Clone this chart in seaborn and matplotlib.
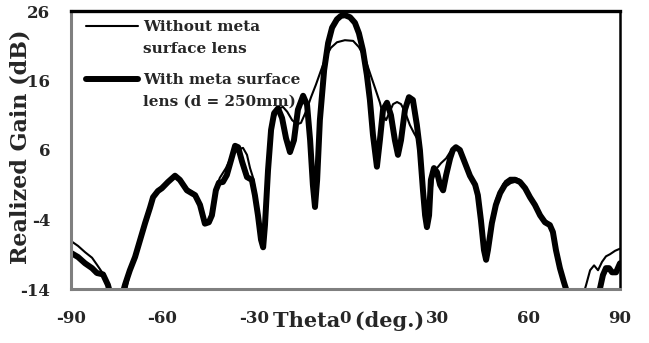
import numpy as np
import pandas as pd
import matplotlib
matplotlib.use("Agg")
import matplotlib.pyplot as plt
import seaborn as sns

# ---- data ----
theta_with = [-90, -87.7, -85.4, -83.1, -81.5, -79.5, -77.9, -76.9, -73.3, -72.3, -70.7, -69.0,
              -67.4, -65.7, -64.1, -63.1, -61.5, -60.2, -58.2, -55.9, -54.3, -52.0, -49.3, -47.7,
              -46.1, -44.8, -43.8, -42.5, -41.5, -40.2, -38.9, -37.5, -36.2, -35.2, -33.9, -32.3,
              -30.7, -29.7, -28.7, -27.7, -27.0, -26.4, -25.4, -24.4, -23.4, -22.1, -20.8, -19.5,
              -18.2, -16.9, -15.6, -13.9, -12.6, -11.6, -10.7, -10.0, -9.3, -8.4, -7.0, -5.7,
              -4.4, -2.8, -1.5, -0.2, 1.5, 3.1, 4.4, 5.7, 7.0, 8.0, 9.0, 10.3, 11.3, 12.3, 13.6,
              14.9, 16.2, 17.2, 18.2, 19.5, 20.8, 22.1, 23.4, 24.4, 25.4, 26.1, 26.7, 27.4, 28.0,
              29.0, 30.0, 31.0, 32.0, 33.0, 34.3, 35.2, 36.2, 37.5, 39.2, 40.8, 42.5, 43.4, 44.4,
              45.4, 46.1, 46.7, 48.0, 49.3, 50.7, 52.3, 53.9, 55.6, 57.2, 58.9, 60.5, 62.1, 63.8,
              65.4, 67.0, 68.0, 69.0, 70.3, 71.6, 72.6, 73.6, 82.5, 83.4, 84.4, 85.4, 86.4, 87.4,
              88.7, 90]
gain_with = [-8.8, -9.4, -10.3, -11.0, -11.7, -11.9, -13.4, -15.0, -15.0, -13.4, -11.3, -9.4,
             -7.0, -4.5, -2.3, -0.8, 0.1, 0.5, 1.4, 2.3, 1.7, 0.2, -0.5, -1.9,
             -4.6, -4.4, -3.4, 0.2, 1.3, 1.4, 2.4, 4.6, 6.6, 6.4, 4.3, 2.1,
             1.7, -0.5, -3.4, -6.9, -8.0, -4.8, 3.1, 8.9, 11.3, 12.0, 10.6, 7.7,
             5.7, 7.4, 11.8, 13.8, 12.5, 7.4, 1.0, -2.2, 1.7, 10.3, 17.5, 21.4,
             23.6, 24.8, 25.3, 25.4, 25.1, 24.3, 22.8, 20.4, 16.8, 13.2, 8.2, 3.6, 7.5, 11.8, 12.8,
             11.0, 7.4, 5.3, 7.4, 11.8, 13.6, 13.2, 9.6, 6.0, 0.2, -3.4, -5.1, -3.4, 1.7,
             3.4, 2.8, 1.0, 0.2, 2.4, 4.8, 6.0, 6.4, 6.0, 4.1, 2.3, 1.0, -0.5, -4.1,
             -8.4, -9.8, -8.4, -4.5, -1.9, -0.2, 1.0, 1.5, 1.7, 1.4, 0.5, -0.8, -1.9, -3.4,
             -4.4, -4.8, -5.8, -8.4, -11.0, -13.0, -14.4, -15.5, -15.5, -14.0, -12.0, -11.0, -11.0, -11.6,
             -11.6, -10.3]

theta_without = [-90, -87.7, -85.4, -83.1, -81.5, -79.8, -78.5, -77.2, -72.3, -70.7, -69.0, -65.7,
                 -63.1, -60.2, -58.2, -55.9, -54.3, -52.0, -49.3, -47.7, -46.1, -44.8, -43.4, -42.5,
                 -41.2, -39.2, -37.2, -35.2, -33.6, -32.3, -31.3, -30.3, -29.4, -28.4, -27.4, -26.7,
                 -25.7, -24.7, -23.4, -21.8, -20.5, -19.1, -17.5, -15.9, -14.6, -13.0, -11.3, -9.7,
                 -8.0, -6.4, -4.8, -2.8, -0.2, 2.5, 4.4, 6.4, 8.0, 9.7, 11.3, 12.3, 13.3, 14.3, 15.6,
                 16.9, 18.2, 19.5, 21.1, 22.5, 23.8, 24.8, 25.7, 26.7, 27.7, 28.7, 30.0, 31.3, 33.0,
                 34.3, 35.9, 37.5, 39.2, 40.8, 42.5, 43.4, 44.4, 45.4, 46.1, 46.7, 48.0, 49.3, 50.7,
                 52.3, 53.9, 55.6, 57.2, 58.9, 60.5, 62.1, 63.8, 65.4, 67.0, 68.0, 69.0, 70.3, 71.6,
                 72.9, 77.9, 78.9, 80.2, 81.5, 82.8, 84.1, 85.4, 86.7, 88.4, 90]
gain_without = [-7.1, -7.8, -8.7, -9.5, -10.5, -11.6, -13.0, -15.0, -15.0, -11.6, -9.5, -4.4,
                -0.5, 0.8, 1.5, 2.3, 1.8, 0.5, -0.3, -1.8, -4.4, -4.1, -1.9, 0.5,
                2.0, 3.4, 5.3, 6.1, 6.3, 5.3, 3.4, 2.0, -0.5, -4.1, -7.2, -5.8,
                1.0, 7.4, 10.6, 12.0, 12.2, 11.5, 10.3, 9.7, 9.9, 11.5, 13.6, 15.4,
                17.5, 19.4, 20.7, 21.5, 21.8, 21.7, 20.8, 19.2, 17.1, 14.9, 12.8, 11.0, 10.3, 11.3, 12.6,
                12.9, 12.6, 11.5, 9.6, 8.4, 7.4, 3.8, -1.2, -4.4, -1.9, 2.0, 3.4, 4.1, 4.8,
                5.7, 6.3, 6.0, 4.4, 2.5, 1.3, -0.2, -3.8, -7.7, -9.0, -7.7, -3.8, -1.2, 0.2,
                1.5, 2.0, 2.0, 1.7, 0.7, -0.6, -1.6, -3.1, -4.1, -4.6, -5.6, -8.4, -11.0, -13.0,
                -14.9, -14.9, -13.4, -11.3, -10.6, -11.3, -10.1, -9.3, -9.0, -8.5, -8.2]

x_ticks = [-90, -60, -30, 0, 30, 60, 90]
y_ticks = [-14, -4, 6, 16, 26]
label_without = "Without meta\nsurface lens"
label_with = "With meta surface\nlens (d = 250mm)"

df_without = pd.DataFrame({"theta": theta_without, "gain": gain_without})
df_with = pd.DataFrame({"theta": theta_with, "gain": gain_with})

# ---- style ----
sns.set_style("white")
plt.rcParams["font.family"] = ["DejaVu Serif"]
plt.rcParams["font.weight"] = "bold"
plt.rcParams["axes.unicode_minus"] = False

fig = plt.figure(figsize=(6.49, 3.43), dpi=100)
ax = fig.add_axes([71 / 649, 54 / 343, 549 / 649, 278 / 343])

sns.lineplot(data=df_without, x="theta", y="gain", ax=ax, color="black", lw=1.5,
             estimator=None, sort=False, label=label_without,
             solid_capstyle="round", solid_joinstyle="round")
sns.lineplot(data=df_with, x="theta", y="gain", ax=ax, color="black", lw=4.3,
             estimator=None, sort=False, label=label_with,
             solid_capstyle="round", solid_joinstyle="round")

ax.set_xlim(-90, 90)
ax.set_ylim(-14, 26)
ax.set_xticks(x_ticks)
ax.set_yticks(y_ticks)
ax.set_xticklabels([str(v) for v in x_ticks])
ax.set_yticklabels([str(v) for v in y_ticks])
ax.tick_params(axis="both", length=0, labelsize=12)
ax.tick_params(axis="x", pad=15)
ax.tick_params(axis="y", pad=15)
for lab in ax.get_xticklabels() + ax.get_yticklabels():
    lab.set_fontweight("bold")

ax.set_xlabel("Theta  (deg.)", fontsize=15, fontweight="bold")
ax.xaxis.set_label_coords(0.506, -0.08)
ax.set_ylabel("Realized Gain (dB)", fontsize=16, fontweight="bold")
ax.yaxis.set_label_coords(-0.072, 0.513)

for side in ["left", "bottom"]:
    ax.spines[side].set_color("#7f7f7f")
    ax.spines[side].set_linewidth(2.2)
ax.spines["top"].set_color("black")
ax.spines["top"].set_linewidth(2.4)
ax.spines["right"].set_color("black")
ax.spines["right"].set_linewidth(1.8)

leg = ax.legend(loc="upper left", bbox_to_anchor=(0.0164, 0.989), frameon=False,
                fontsize=11, handlelength=3.4, handletextpad=0.35,
                labelspacing=1.15, borderaxespad=0.0)
for t in leg.get_texts():
    t.set_fontweight("bold")
    t.set_linespacing(1.7)
# align each legend line sample with the first text line of its entry
for col in leg._legend_handle_box.get_children():
    for row in col.get_children():
        row.align = "top"

fig.savefig("out.png", dpi=100)
